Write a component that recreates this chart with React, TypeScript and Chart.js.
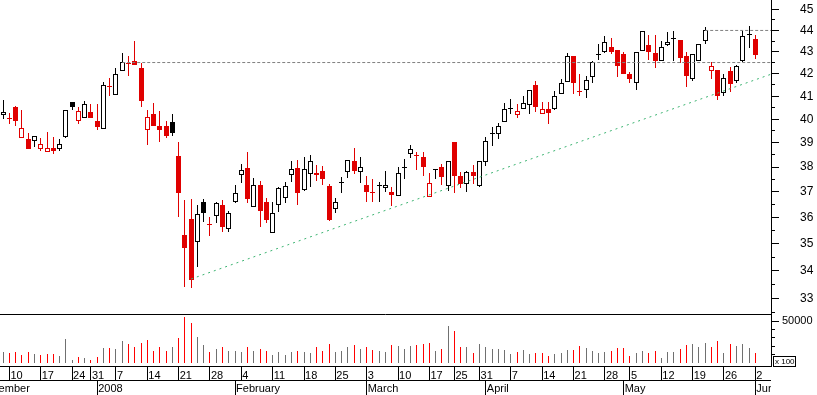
import React, { useEffect, useRef } from 'react';
import { Chart, registerables } from 'chart.js';

Chart.register(...registerables);

// ---- daily OHLC (price), Dec 2007 - Jun 2008 ----
const opens = [40.18, 40.01, 40.52, 39.19, 39.16, 39.07, 38.73, 38.63, 38.79, 38.73,
  39.26, 40.74, 39.94, 40.04, 40.31, 39.91, 39.57, 41.41, 41.07, 42.11,
  42.44, 42.58, 42.26, 39.53, 40.22, 39.72, 39.71, 39.88, 38.46, 35.33,
  35.94, 35.08, 36.60, 35.71, 36.07, 36.49, 35.55, 36.59, 37.67, 37.96,
  36.39, 37.28, 36.62, 35.40, 36.47, 36.75, 37.67, 37.96, 37.09, 37.71,
  37.66, 37.84, 37.24, 36.32, 37.36, 37.79, 38.24, 37.81, 37.28, 36.96,
  37.25, 37.17, 37.01, 36.85, 37.97, 38.53, 38.46, 38.41, 36.79, 37.88,
  38.00, 37.25, 39.03, 37.64, 37.31, 37.80, 37.24, 38.20, 39.36, 39.36,
  39.90, 40.44, 40.19, 40.43, 40.61, 41.50, 40.21, 40.43, 40.46, 41.08,
  41.62, 42.81, 41.20, 41.27, 41.85, 42.85, 43.01, 43.24, 43.09, 42.88,
  41.99, 41.58, 43.02, 43.32, 42.93, 42.57, 43.33, 43.58, 43.55, 42.82,
  41.77, 42.59, 43.51, 42.14, 42.17, 41.14, 42.13, 41.69, 42.57, 43.80,
  43.61];
const highs = [40.84, 40.25, 40.56, 40.40, 39.40, 39.28, 39.19, 39.46, 39.25, 39.15,
  40.39, 40.74, 40.52, 40.79, 40.66, 40.65, 41.63, 41.81, 42.26, 42.97,
  42.81, 43.51, 42.47, 40.40, 40.69, 40.36, 39.93, 40.22, 39.03, 36.68,
  36.72, 36.49, 36.72, 36.00, 36.62, 36.68, 36.25, 37.28, 38.12, 38.62,
  37.55, 37.44, 36.75, 36.62, 37.21, 37.40, 38.25, 38.29, 38.40, 38.50,
  38.08, 38.04, 37.31, 36.75, 37.61, 38.28, 38.78, 38.41, 37.64, 37.51,
  37.40, 37.84, 37.20, 37.99, 38.31, 38.91, 38.62, 38.62, 37.75, 37.94,
  38.13, 38.24, 39.03, 37.80, 37.84, 38.08, 38.24, 39.26, 39.68, 39.82,
  40.69, 40.87, 40.65, 41.02, 41.27, 41.68, 40.75, 40.75, 41.24, 41.76,
  42.97, 42.81, 41.99, 41.90, 42.60, 43.37, 43.72, 43.66, 43.09, 42.99,
  42.09, 43.01, 43.97, 43.79, 43.79, 43.51, 43.92, 43.98, 43.55, 43.00,
  42.90, 43.38, 44.18, 42.52, 42.17, 41.99, 42.32, 42.40, 43.97, 44.22,
  43.79];
const lows = [40.01, 39.80, 39.72, 39.19, 38.75, 38.84, 38.67, 38.63, 38.53, 38.67,
  39.22, 40.40, 39.79, 40.04, 40.04, 39.54, 39.57, 41.02, 41.07, 42.11,
  41.90, 42.40, 40.55, 38.92, 39.72, 39.05, 39.22, 39.28, 36.03, 33.42,
  33.38, 34.15, 35.84, 35.29, 35.80, 35.46, 35.46, 36.55, 37.35, 36.55,
  36.39, 35.65, 35.80, 35.40, 36.23, 36.57, 37.41, 36.49, 37.04, 37.21,
  37.45, 37.28, 35.87, 36.16, 36.95, 37.57, 37.72, 37.37, 36.61, 36.61,
  36.61, 37.01, 36.45, 36.83, 37.52, 38.36, 37.86, 37.65, 36.79, 37.52,
  37.28, 37.05, 36.97, 37.15, 37.01, 37.31, 37.21, 38.05, 38.88, 39.15,
  39.90, 40.21, 40.06, 40.43, 40.21, 40.33, 40.21, 39.78, 40.40, 41.08,
  41.62, 41.10, 41.03, 40.94, 41.58, 42.63, 42.93, 42.88, 41.84, 41.99,
  41.58, 41.28, 43.02, 42.63, 42.25, 42.57, 43.26, 42.57, 42.48, 41.42,
  41.69, 42.57, 43.38, 41.75, 40.84, 40.99, 41.17, 41.58, 42.52, 43.20,
  42.66];
const closes = [40.30, 40.01, 39.94, 39.64, 38.75, 39.28, 38.94, 38.79, 38.67, 38.94,
  40.39, 40.55, 40.34, 40.65, 40.04, 39.68, 41.51, 41.40, 41.99, 42.54,
  42.44, 42.40, 40.77, 40.08, 39.72, 39.54, 39.30, 39.43, 36.95, 34.82,
  33.67, 36.12, 36.18, 35.71, 36.55, 35.65, 36.16, 36.95, 37.87, 36.73,
  37.27, 36.25, 35.91, 36.16, 37.15, 37.24, 37.91, 36.95, 37.91, 38.24,
  37.75, 37.53, 35.90, 36.59, 37.37, 38.28, 37.85, 38.00, 37.01, 36.96,
  37.25, 37.27, 36.89, 37.75, 37.97, 38.73, 38.46, 38.01, 37.36, 37.88,
  37.61, 38.24, 37.65, 37.31, 37.79, 37.65, 38.24, 39.06, 39.36, 39.71,
  40.43, 40.45, 40.36, 40.69, 41.27, 40.52, 40.43, 40.28, 41.01, 41.58,
  42.81, 41.60, 41.20, 41.71, 42.55, 42.85, 43.45, 42.99, 42.36, 41.99,
  41.77, 43.01, 43.97, 43.00, 42.57, 43.21, 43.47, 43.58, 42.73, 41.92,
  42.90, 43.38, 44.02, 42.36, 40.99, 41.80, 41.53, 42.35, 43.74, 43.80,
  42.84];
// volume, in units of 100 shares
const volumes = [13660, 11650, 13660, 9240, 13660, 10440, 9240, 10440, 10440, 8840,
  29320, 4020, 7630, 6430, 4020, 7630, 18480, 18480, 17270, 26910,
  22500, 19680, 24500, 28120, 14860, 19680, 14860, 19680, 30530, 54630,
  47400, 31730, 21290, 12850, 17270, 18880, 14060, 14060, 12850, 18880,
  14060, 16470, 14060, 9240, 12850, 9240, 12850, 14060, 12850, 11650,
  18880, 14060, 22500, 12850, 14060, 18880, 21290, 16470, 19680, 16070,
  14060, 12850, 21290, 20090, 17270, 20090, 21290, 22500, 23700, 14060,
  16470, 44190, 38160, 18880, 18880, 11650, 22500, 18880, 16470, 16470,
  15260, 10440, 12850, 15260, 10440, 11650, 11650, 8030, 10440, 11650,
  15260, 15260, 20090, 17670, 14060, 11650, 12850, 14060, 17670, 17670,
  8030, 11650, 14060, 11650, 14060, 5620, 12850, 12850, 16470, 21290,
  22500, 18880, 23700, 18880, 26110, 11650, 22500, 20090, 22500, 17670,
  11650];

// ---- axis ticks ----
const weekTickIndex = [1, 6, 11, 14, 18, 23, 28, 33, 38, 43, 48, 53, 58, 63, 68, 72, 76, 81, 86, 91, 96, 100, 105, 110, 115, 120];
const weekTickLabels = ['10', '17', '24', '31', '7', '14', '21', '28', '4', '11', '18', '25', '3', '10', '17', '25', '31', '7', '14', '21', '28', '5', '12', '19', '26', '2'];
const monthTickIndex = [-4, 15, 37, 58, 77, 99, 120];
const monthTickLabels = ['December', '2008', 'February', 'March', 'April', 'May', 'June'];
const priceTicks = [32.5, 33, 33.5, 34, 34.5, 35, 35.5, 36, 36.5, 37, 37.5, 38, 38.5, 39, 39.5,
  40, 40.5, 41, 41.5, 42, 42.5, 43, 43.5, 44, 44.5, 45];
const volumeTicks = [10000, 20000, 30000, 40000, 50000];
const volumeLabelled = [50000];
const unitLabel = 'x 100';

// ---- drawn study lines ----
const resistanceLevel = 42.51;
const resistanceStartIndex = 19;
const topLevel = 44.0;
const topStartIndex = 112;
const trendStart = [30, 33.70];
const trendEnd = [122.5, 41.98];

// ---- axis ranges ----
const xMin = -0.5;
const xMax = 122.5;
const priceMin = 32.4564;
const priceMax = 45.461;
const volMin = -3600;
const volMax = 58750;

const FONT = '"Liberation Sans", Arial, sans-serif';
const RED = '#E00000';
const BLACK = '#000000';
const WHITE = '#FFFFFF';
const VOL_RED = '#FF0000';
const VOL_GREY = '#707070';

export default function App() {
  const canvasRef = useRef<HTMLCanvasElement | null>(null);

  useEffect(() => {
    document.body.style.margin = '0';
    const canvas = canvasRef.current;
    if (!canvas) return;

    const idx = closes.map((_, i) => i);
    const candleColor = closes.map((c, i) => (i > 0 && c < closes[i - 1] ? RED : BLACK));
    const bodyFill = closes.map((c, i) => (c < opens[i] ? candleColor[i] : WHITE));
    const volColor = candleColor.map((c) => (c === RED ? VOL_RED : VOL_GREY));

    const snapPlugin = {
      id: 'snapBars',
      afterDatasetsUpdate(chart: any) {
        chart.data.datasets.forEach((_: any, di: number) => {
          const meta = chart.getDatasetMeta(di);
          if (meta.type !== 'bar') return;
          meta.data.forEach((el: any) => {
            el.x = Math.round(el.x - 0.5) + 0.5;
            const b = Math.round(el.base);
            let y = Math.round(el.y);
            if (y === b) y = b - 1;
            el.base = b;
            el.y = y;
          });
        });
      },
    };

    const unitBoxPlugin = {
      id: 'unitBox',
      afterDraw(chart: any) {
        const s = chart.scales.yVol;
        const ctx = chart.ctx;
        const left = Math.round(s.left) + 2;
        const bottom = Math.round(s.bottom);
        const top = bottom - 10;
        ctx.save();
        ctx.strokeStyle = '#000';
        ctx.lineWidth = 1;
        ctx.strokeRect(left + 0.5, top + 0.5, 22, bottom - top);
        ctx.fillStyle = '#000';
        ctx.font = `8px ${FONT}`;
        ctx.textBaseline = 'middle';
        ctx.textAlign = 'left';
        ctx.fillText(unitLabel, left + 2, top + 5.5);
        ctx.restore();
      },
    };

    const clipRight = (s: any) => {
      if (s.__clipped) return;
      const orig = s.draw.bind(s);
      s.draw = (area: any) => {
        const c = s.ctx;
        c.save();
        c.beginPath();
        c.rect(0, 0, s.right, s.chart.height);
        c.clip();
        orig(area);
        c.restore();
      };
      s.__clipped = true;
    };

    const xAxis = (ticksIdx: number[], labels: string[], weight: number, height: number, pad: number) => ({
      type: 'linear',
      position: 'bottom',
      weight,
      min: xMin,
      max: xMax,
      bounds: 'data',
      offset: false,
      afterBuildTicks: (s: any) => {
        s.ticks = ticksIdx.map((v) => ({ value: v }));
      },
      afterFit: (s: any) => {
        s.height = height;
        s.paddingLeft = 0;
        s.paddingRight = 0;
      },
      afterUpdate: clipRight,
      ticks: {
        autoSkip: false,
        maxRotation: 0,
        minRotation: 0,
        align: 'start',
        labelOffset: 1,
        padding: pad,
        color: '#000',
        font: { family: FONT, size: 11 },
        callback: (_v: any, i: number) => labels[i],
      },
      grid: { drawOnChartArea: false, drawTicks: true, tickLength: height, color: '#000', offset: false },
      border: { display: true, color: '#000', width: 1 },
    });

    const chart = new Chart(canvas, {
      type: 'bar',
      data: {
        datasets: [
          {
            type: 'line',
            data: [{ x: resistanceStartIndex, y: resistanceLevel }, { x: xMax, y: resistanceLevel }],
            borderColor: '#808080',
            borderWidth: 1,
            borderDash: [3, 2],
            pointRadius: 0,
            xAxisID: 'x',
            yAxisID: 'y',
            order: 0,
          },
          {
            type: 'line',
            data: [{ x: topStartIndex, y: topLevel }, { x: xMax, y: topLevel }],
            borderColor: '#808080',
            borderWidth: 1,
            borderDash: [3, 2],
            pointRadius: 0,
            xAxisID: 'x',
            yAxisID: 'y',
            order: 0,
          },
          {
            type: 'line',
            data: [{ x: trendStart[0], y: trendStart[1] }, { x: trendEnd[0], y: trendEnd[1] }],
            borderColor: '#3CB371',
            borderWidth: 1,
            borderDash: [2, 4],
            pointRadius: 0,
            xAxisID: 'x',
            yAxisID: 'y',
            order: 0,
          },
          {
            type: 'bar',
            data: idx.map((i) => ({ x: i, y: [opens[i], closes[i]] })),
            backgroundColor: bodyFill,
            borderColor: candleColor,
            borderWidth: 1,
            borderSkipped: false,
            barThickness: 5,
            grouped: false,
            inflateAmount: 0,
            xAxisID: 'x',
            yAxisID: 'y',
            order: 1,
          },
          {
            type: 'bar',
            data: idx.map((i) => ({ x: i, y: [lows[i], highs[i]] })),
            backgroundColor: candleColor,
            borderWidth: 0,
            barThickness: 1,
            grouped: false,
            inflateAmount: 0,
            xAxisID: 'x',
            yAxisID: 'y',
            order: 2,
          },
          {
            type: 'bar',
            data: idx.map((i) => ({ x: i, y: volumes[i] })),
            backgroundColor: volColor,
            borderWidth: 0,
            barThickness: 1,
            grouped: false,
            inflateAmount: 0,
            xAxisID: 'x',
            yAxisID: 'yVol',
            order: 2,
          },
        ] as any,
      },
      options: {
        responsive: false,
        maintainAspectRatio: false,
        animation: false,
        events: [],
        layout: { padding: 0, autoPadding: false },
        plugins: { legend: { display: false }, tooltip: { enabled: false }, title: { display: false } },
        scales: {
          x: xAxis(weekTickIndex, weekTickLabels, 1, 14, -11),
          xMonth: xAxis(monthTickIndex, monthTickLabels, 2, 15, -13),
          y: {
            type: 'logarithmic',
            position: 'right',
            stack: 'v',
            stackWeight: 314,
            min: priceMin,
            max: priceMax,
            bounds: 'data',
            afterBuildTicks: (s: any) => {
              s.ticks = priceTicks.map((v) => ({ value: v }));
            },
            afterFit: (s: any) => {
              s.width = 46;
              s.paddingTop = 0;
              s.paddingBottom = 0;
            },
            ticks: {
              autoSkip: false,
              padding: 21,
              color: '#000',
              font: { family: FONT, size: 12 },
              callback: (v: any) => (Number.isInteger(v) ? String(v) : ''),
            },
            grid: {
              drawOnChartArea: false,
              drawTicks: true,
              tickLength: 8,
              color: '#000',
              tickBorderDash: (ctx: any) => (ctx.tick && Number.isInteger(ctx.tick.value) ? [] : [3, 20]),
            },
            border: { display: true, color: '#000', width: 1 },
          },
          yVol: {
            type: 'linear',
            position: 'right',
            stack: 'v',
            stackWeight: 52,
            min: volMin,
            max: volMax,
            bounds: 'data',
            afterBuildTicks: (s: any) => {
              s.ticks = [...volumeTicks, volMax].map((v) => ({ value: v }));
            },
            afterFit: (s: any) => {
              s.width = 46;
              s.paddingTop = 0;
              s.paddingBottom = 0;
            },
            ticks: {
              autoSkip: false,
              padding: 3,
              color: '#000',
              font: { family: FONT, size: 11 },
              callback: (v: any) => (volumeLabelled.includes(v) ? String(v) : ''),
            },
            grid: {
              drawOnChartArea: true,
              drawTicks: true,
              tickLength: 8,
              color: (ctx: any) => (ctx.tick && ctx.tick.value === volMax ? '#000' : 'rgba(0,0,0,0)'),
              tickColor: (ctx: any) => (ctx.tick && ctx.tick.value === volMax ? 'rgba(0,0,0,0)' : '#000'),
              tickBorderDash: (ctx: any) => (ctx.tick && volumeLabelled.includes(ctx.tick.value) ? [] : [3, 20]),
            },
            border: { display: true, color: '#000', width: 1 },
          },
        },
      } as any,
      plugins: [snapPlugin, unitBoxPlugin],
    });

    return () => chart.destroy();
  }, []);

  return (
    <div style={{ width: 817, height: 395, background: '#fff' }}>
      <canvas ref={canvasRef} width={817} height={395} style={{ display: 'block', width: 817, height: 395 }} />
    </div>
  );
}
